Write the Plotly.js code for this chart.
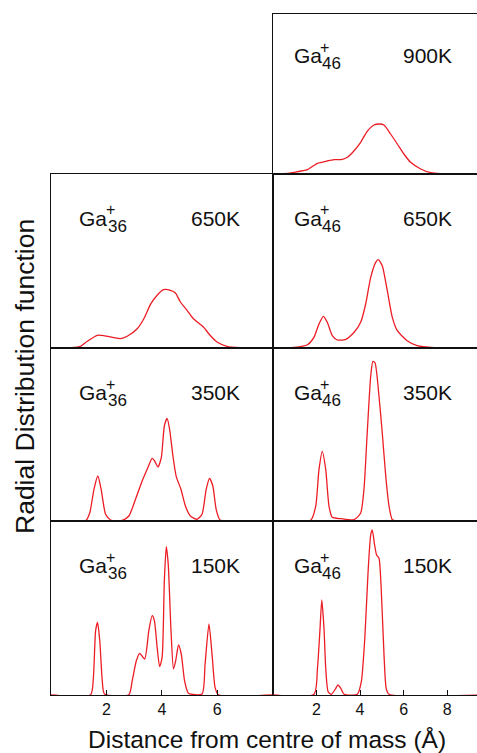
<!DOCTYPE html>
<html>
<head>
<meta charset="utf-8">
<script src="https://cdn.plot.ly/plotly-3.0.1.min.js"></script>
<style>html,body{margin:0;padding:0;background:#fff;}#chart{width:477px;height:753px;}</style>
</head>
<body>
<div id="chart"></div>
<script>
// ---------------- DATA (distance in Å, RDF in arbitrary units) ----------------
const temperatures = ['900K', '650K', '350K', '150K'];
const clusterLeft = '36';
const clusterRight = '46';
const ticksLeft = [2, 4, 6];
const ticksRight = [2, 4, 6, 8];

// Ga46+ 900K
const r46_900 = [0, 0.5, 0.98, 1.59, 2.05, 2.50, 2.81, 3.19, 3.42, 3.73, 4.03, 4.33, 4.64, 4.87, 5.10, 5.40, 5.71, 6.01, 6.32, 6.78, 7.24, 7.69, 9.4];
const g46_900 = [0, 0.3, 1.7, 4.3, 10.7, 13, 14.3, 14.7, 16.7, 23.3, 31.7, 42.7, 49, 50, 49, 40, 30, 20, 11.7, 5, 1.3, 0.3, 0];

// Ga36+ 650K
const r36_650 = [0, 0.71, 1.07, 1.31, 1.67, 1.91, 2.27, 2.51, 2.75, 3.11, 3.35, 3.59, 3.83, 4.06, 4.31, 4.49, 4.67, 4.91, 5.14, 5.50, 5.74, 5.99, 6.35, 6.82, 8];
const g36_650 = [0, 0.3, 1.7, 6.7, 12.7, 12.3, 10.3, 9.3, 11.7, 19.3, 29.3, 43.7, 52.7, 58.3, 57.7, 55, 46, 37.7, 29.3, 21, 12.7, 6, 1.7, 0.3, 0];

// Ga46+ 650K
const r46_650 = [0, 0.98, 1.59, 1.89, 2.12, 2.32, 2.50, 2.73, 2.96, 3.35, 3.73, 4.03, 4.26, 4.49, 4.72, 4.84, 5.02, 5.25, 5.48, 5.71, 6.16, 6.62, 7.39, 9.4];
const g46_650 = [0, 0.7, 3.3, 10.7, 24, 31.7, 25.7, 12.3, 8, 8.7, 15.7, 25.7, 44, 70.7, 85.7, 88.3, 82.3, 57.3, 30.7, 17.3, 7.3, 2.3, 0.3, 0];

// Ga36+ 350K
const r36_350 = [0, 1.25, 1.40, 1.55, 1.69, 1.81, 1.97, 2.15, 2.57, 2.81, 3.05, 3.29, 3.47, 3.65, 3.74, 3.86, 3.98, 4.09, 4.19, 4.28, 4.40, 4.52, 4.69, 4.85, 5.03, 5.27, 5.45, 5.60, 5.72, 5.84, 5.96, 6.10, 6.35, 8];
const g36_350 = [0, 0.3, 8.3, 31.7, 45, 31.7, 6.7, 1, 0.7, 5, 21.7, 40, 51.7, 62.7, 60, 54, 63.3, 95, 102.7, 91.7, 65, 44.3, 31.7, 15, 5, 1.7, 6.7, 31.7, 42.7, 35, 11.7, 1, 0, 0];

// Ga46+ 350K
const r46_350 = [0, 1.74, 1.97, 2.12, 2.27, 2.43, 2.58, 2.73, 3.12, 3.73, 4.03, 4.18, 4.33, 4.49, 4.59, 4.69, 4.87, 5.02, 5.18, 5.33, 5.48, 5.71, 9.4];
const g46_350 = [0, 0.7, 14.7, 51.3, 69.7, 51.3, 14.7, 3.7, 2.3, 1.3, 8, 31.3, 88, 144.7, 159.7, 158, 124.7, 88, 44.7, 14.7, 1.3, 0, 0];

// Ga36+ 150K
const r36_150 = [0, 1.43, 1.53, 1.61, 1.68, 1.76, 1.85, 1.93, 2.81, 2.93, 3.08, 3.20, 3.38, 3.53, 3.65, 3.73, 3.83, 3.92, 4.01, 4.09, 4.16, 4.23, 4.33, 4.42, 4.50, 4.60, 4.70, 4.82, 4.96, 5.45, 5.56, 5.70, 5.82, 5.92, 6.04, 8];
const g36_150 = [0, 0.3, 17.7, 64.3, 72.7, 54.3, 14.3, 1, 0.3, 14.3, 34.3, 41.7, 36, 64.3, 79.3, 74.3, 47.7, 28.3, 37.7, 114.3, 148.3, 131, 64.3, 26, 34.3, 50, 41, 14.3, 1.7, 1, 31, 71, 37.7, 7.7, 0.3, 0];

// Ga46+ 150K
const r46_150 = [0, 1.89, 2.05, 2.16, 2.25, 2.35, 2.43, 2.54, 2.69, 2.89, 2.99, 3.12, 3.27, 3.88, 4.06, 4.22, 4.37, 4.49, 4.56, 4.67, 4.76, 4.87, 4.97, 5.10, 5.20, 5.33, 9.4];
const g46_150 = [0, 0.7, 26.7, 63.3, 95, 66.7, 26.7, 3.3, 0.7, 6.7, 10, 6.7, 0.7, 0.7, 13.3, 56.7, 123.3, 160, 165, 150, 140, 136.7, 106.7, 40, 6.7, 0.7, 0];

// ---------------- LAYOUT HELPERS ----------------
const W = 477, H = 753;
const px = p => p / W;
const py = p => 1 - p / H;
const colX = { L: [51, 272.7], R: [272.7, 477] };
const colRange = { L: [0, 8], R: [0, 9.36] };
const rowsPx = [[14, 174], [174, 348], [348, 521], [521, 695]];
const rowMax = [160, 174, 173, 174];
const gaBase = [63, 225.5, 400, 573];

const panels = [
  { r: r46_900, g: g46_900, col: 'R', row: 0 },
  { r: r36_650, g: g36_650, col: 'L', row: 1 },
  { r: r46_650, g: g46_650, col: 'R', row: 1 },
  { r: r36_350, g: g36_350, col: 'L', row: 2 },
  { r: r46_350, g: g46_350, col: 'R', row: 2 },
  { r: r36_150, g: g36_150, col: 'L', row: 3 },
  { r: r46_150, g: g46_150, col: 'R', row: 3 }
];

const FONT = 'Liberation Sans, Arial, Helvetica, sans-serif';
const RED = 'rgb(236,28,36)';
const traces = [];
const layout = {
  width: W, height: H,
  margin: { l: 0, r: 0, t: 0, b: 0 },
  showlegend: false,
  paper_bgcolor: '#fff', plot_bgcolor: 'rgba(0,0,0,0)',
  font: { family: FONT, color: '#111' },
  annotations: []
};

panels.forEach((p, i) => {
  const n = i + 1;
  const sfx = n === 1 ? '' : String(n);
  const bottomRow = p.row === 3;
  traces.push({
    x: p.r, y: p.g, type: 'scatter', mode: 'lines',
    xaxis: 'x' + sfx, yaxis: 'y' + sfx,
    line: { color: RED, width: 1.3, shape: 'spline', smoothing: 0.6 },
    hoverinfo: 'skip'
  });
  layout['xaxis' + sfx] = {
    domain: [px(colX[p.col][0]), px(colX[p.col][1])],
    range: colRange[p.col],
    anchor: 'y' + sfx,
    showline: true, linecolor: '#111', linewidth: 1.2, mirror: true,
    showgrid: false, zeroline: false,
    ticks: bottomRow ? 'inside' : '', ticklen: 5, tickwidth: 1, tickcolor: '#111',
    tickvals: p.col === 'L' ? ticksLeft : ticksRight,
    showticklabels: bottomRow,
    tickfont: { family: FONT, size: 16, color: '#111' },
    fixedrange: true
  };
  layout['yaxis' + sfx] = {
    domain: [py(rowsPx[p.row][1]), py(rowsPx[p.row][0])],
    range: [0, rowMax[p.row]],
    anchor: 'x' + sfx,
    showline: true, linecolor: '#111', linewidth: 1.2, mirror: p.col === 'L',
    showgrid: false, zeroline: false, ticks: '', showticklabels: false,
    fixedrange: true
  };

  // labels: Ga with stacked superscript "+" and subscript cluster size, plus temperature
  const B = gaBase[p.row];
  const isL = p.col === 'L';
  const gaX = isL ? 79.3 : 294.3;
  const supX = isL ? 110.8 : 324.5;
  const subX = isL ? 107.3 : 321.7;
  const tX = isL ? 190.7 : 403;
  const ann = (text, x, y, size, xanchor) => layout.annotations.push({
    text, x: px(x), y: py(y), xref: 'paper', yref: 'paper',
    xanchor, yanchor: 'middle', showarrow: false, borderpad: 0,
    font: { family: FONT, size, color: '#111' }
  });
  ann('Ga', gaX - 1, B - 7.3, 21, 'left');
  ann('+', supX, B - 15.5, 16, 'center');
  ann(isL ? clusterLeft : clusterRight, subX - 0.5, B + 0.8, 17, 'left');
  ann(temperatures[p.row], tX - 1, B - 7.3, 21, 'left');
});

layout.annotations.push({
  text: 'Distance from centre of mass (Å)',
  x: px(267), y: py(747.5 - 0.3465 * 24.5), xref: 'paper', yref: 'paper',
  xanchor: 'center', yanchor: 'middle', showarrow: false, borderpad: 0,
  font: { family: FONT, size: 24.5, color: '#111' }
});
layout.annotations.push({
  text: 'Radial Distribution function',
  x: px(24.3), y: py(376.7), xref: 'paper', yref: 'paper',
  xanchor: 'center', yanchor: 'middle', showarrow: false, textangle: -90, borderpad: 0,
  font: { family: FONT, size: 26.5, color: '#111' }
});

Plotly.newPlot('chart', traces, layout, { displayModeBar: false, staticPlot: true });
</script>
</body>
</html>
